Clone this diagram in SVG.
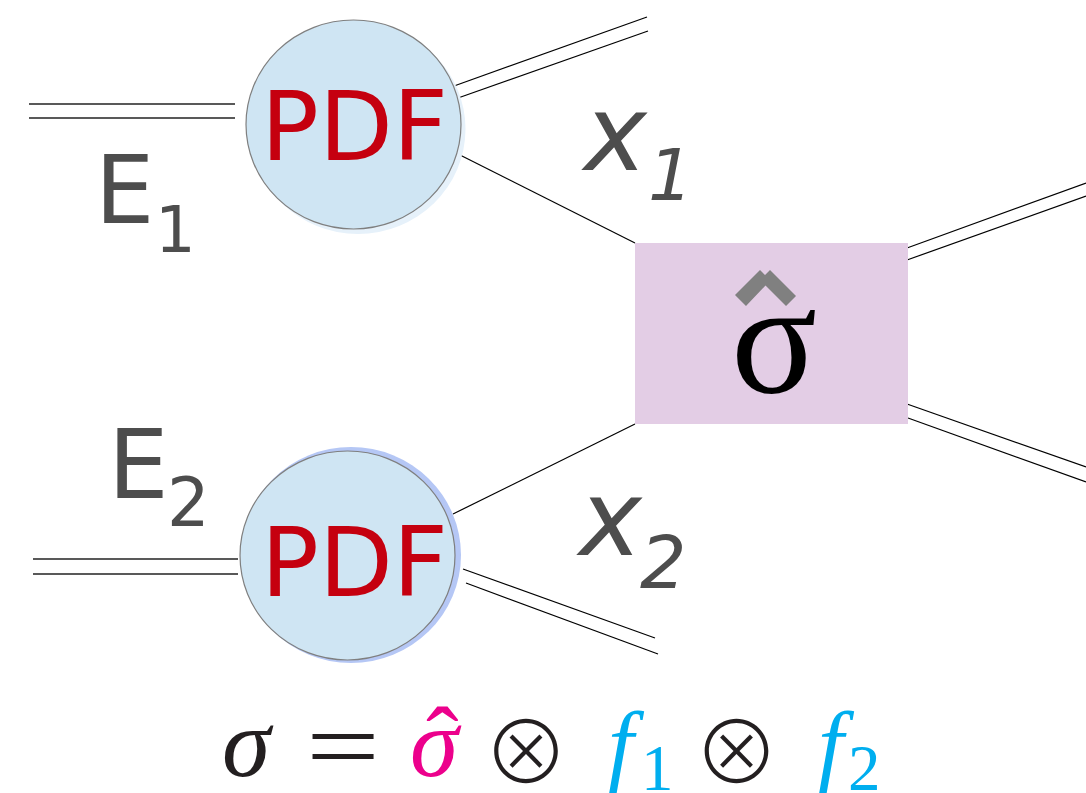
<svg xmlns="http://www.w3.org/2000/svg" width="1086" height="793" viewBox="0 0 1086 793">
<style>
.ln{stroke:#000;stroke-width:1.2;fill:none}
.dl{stroke:#222;stroke-width:1.5;fill:none}
.lbl{font-family:"DejaVu Sans",sans-serif;fill:#4d4d4d}
.it{font-style:italic}
.pdf{font-family:"DejaVu Sans",sans-serif;font-size:96px;fill:#c5000f}
.ell{fill:#cfe5f3;stroke:#7f7f7f;stroke-width:1.2}
.m{font-family:"Liberation Serif",serif}
.ot{font-family:"Noto Sans CJK JP","Noto Sans CJK SC",sans-serif;font-weight:300;fill:#231f20}
</style>
<rect width="1086" height="793" fill="#fff"/>
<g id="connectors">
<line class="dl" x1="29" y1="104" x2="235" y2="104"/>
<line class="dl" x1="29" y1="118" x2="235" y2="118"/>
<line class="ln" x1="454" y1="86" x2="647" y2="17"/>
<line class="ln" x1="458" y1="98" x2="648" y2="31"/>
<line class="ln" x1="460" y1="155" x2="635" y2="243"/>
<line class="ln" x1="907" y1="248" x2="1086" y2="183"/>
<line class="ln" x1="907" y1="260" x2="1086" y2="196"/>
<line class="ln" x1="907" y1="404" x2="1086" y2="467"/>
<line class="ln" x1="908" y1="418" x2="1086" y2="482"/>
<line class="ln" x1="453" y1="514" x2="635" y2="424"/>
<line class="dl" x1="33" y1="559" x2="238" y2="559"/>
<line class="dl" x1="33" y1="574" x2="238" y2="574"/>
<line class="ln" x1="463" y1="569" x2="655" y2="638"/>
<line class="ln" x1="466" y1="583" x2="658" y2="654"/>
</g>
<g id="pdf1">
<ellipse cx="358" cy="129" rx="107.5" ry="105" fill="#e6f1fa"/>
<ellipse class="ell" cx="353.5" cy="124.5" rx="107.5" ry="104.5"/>
<text class="pdf" x="261" y="160">PDF</text>
</g>
<g id="pdf2">
<ellipse cx="351" cy="555" rx="110" ry="108" fill="#b5c7f5"/>
<ellipse class="ell" cx="347.5" cy="555.5" rx="107.5" ry="104.5"/>
<text class="pdf" x="261" y="596">PDF</text>
</g>
<g id="sigmahat">
<rect x="635" y="243" width="273" height="181" fill="#e3cde5"/>
<polygon points="735,295 760,270 765,275 770,270 796,296 786,306 765.5,285.5 746,306" fill="#808080"/>
<text class="m" x="774" y="392" font-size="160" text-anchor="middle" fill="#000">σ</text>
</g>
<g id="E1"><text class="lbl" x="95" y="223" font-size="94">E</text><text class="lbl" x="155" y="252" font-size="64">1</text></g>
<g id="E2"><text class="lbl" x="108" y="498" font-size="96">E</text><text class="lbl" x="167" y="526" font-size="67">2</text></g>
<g id="x1"><text class="lbl it" x="584" y="170" font-size="106">x</text><text class="lbl it" x="648" y="200" font-size="71">1</text></g>
<g id="x2"><text class="lbl it" x="579" y="555" font-size="106">x</text><text class="lbl it" x="640" y="588" font-size="73">2</text></g>
<g id="formula">
<text class="m it" x="222" y="776" font-size="98" fill="#231f20">σ</text>
<text class="m" x="306" y="780" font-size="100" fill="#231f20" textLength="74" lengthAdjust="spacingAndGlyphs">=</text>
<text class="m" font-size="98" fill="#ec008c"><tspan class="it" x="410" y="776">σ</tspan><tspan x="426" y="774">ˆ</tspan></text>
<text class="ot" x="526" y="784" font-size="86" text-anchor="middle">⊗</text>
<text class="m it" x="608" y="775" font-size="92" fill="#00aeef">f</text>
<text class="m" x="641" y="790" font-size="65" fill="#00aeef">1</text>
<text class="ot" x="736.5" y="784" font-size="86" text-anchor="middle">⊗</text>
<text class="m it" x="818" y="775" font-size="92" fill="#00aeef">f</text>
<text class="m" x="848" y="790" font-size="65" fill="#00aeef">2</text>
</g>
</svg>
